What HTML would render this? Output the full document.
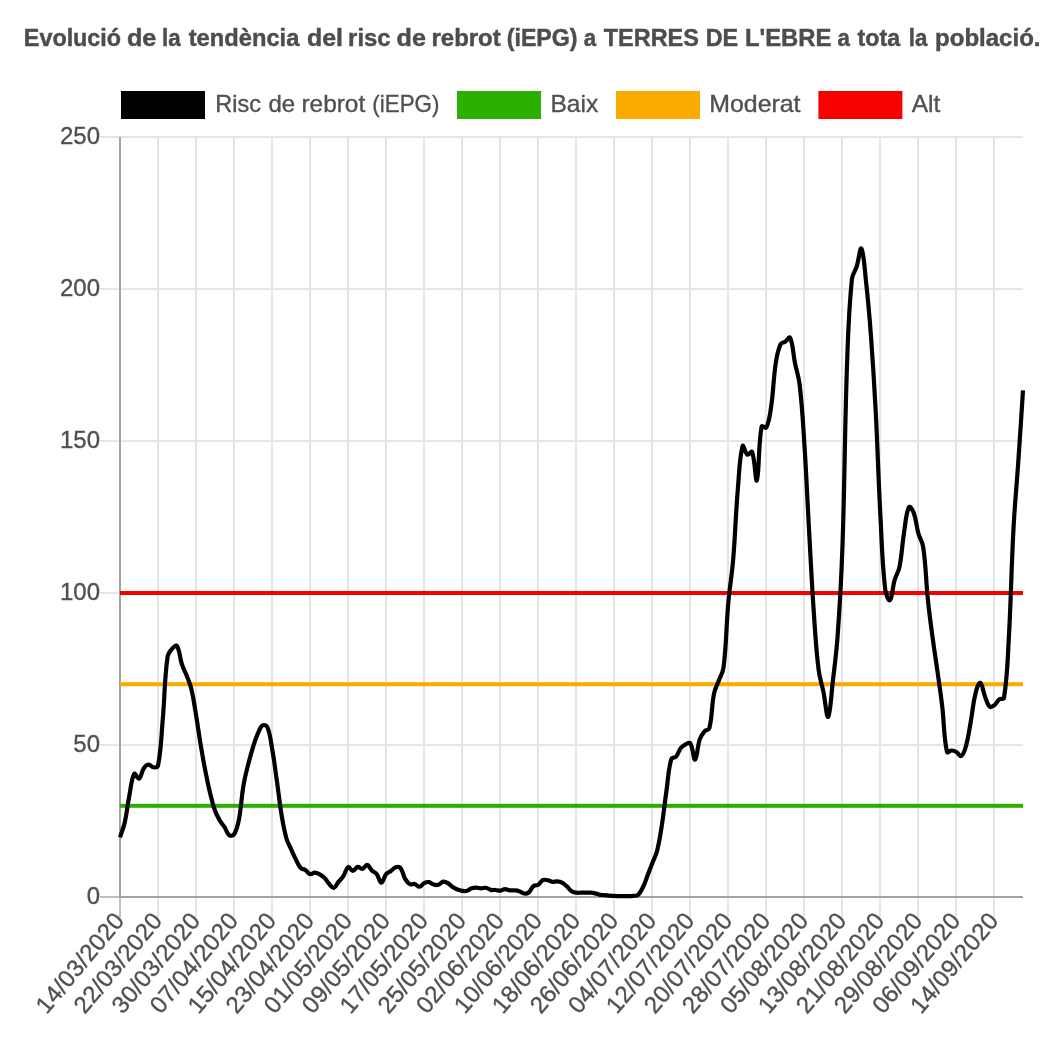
<!DOCTYPE html>
<html><head><meta charset="utf-8"><title>iEPG</title>
<style>html,body{margin:0;padding:0;background:#fff;overflow:hidden}svg{display:block;will-change:transform}text{font-family:"Liberation Sans",sans-serif;fill:#505050;stroke:#505050;stroke-width:0.35px}.tt text{fill:#4d4d4d;stroke:#4d4d4d;stroke-width:0.45px}</style>
</head><body>
<svg width="1062" height="1038" viewBox="0 0 1062 1038">
<rect width="1062" height="1038" fill="#fff"/>
<g class="tt" font-size="24" font-weight="bold">
<text x="23.83" y="45.6" textLength="97.28" lengthAdjust="spacingAndGlyphs">Evolució</text>
<text x="126.95" y="45.6" textLength="29.42" lengthAdjust="spacingAndGlyphs">de</text>
<text x="162.02" y="45.6" textLength="18.61" lengthAdjust="spacingAndGlyphs">la</text>
<text x="188.70" y="45.6" textLength="110.64" lengthAdjust="spacingAndGlyphs">tendència</text>
<text x="307.06" y="45.6" textLength="35.99" lengthAdjust="spacingAndGlyphs">del</text>
<text x="348.11" y="45.6" textLength="42.39" lengthAdjust="spacingAndGlyphs">risc</text>
<text x="396.55" y="45.6" textLength="29.42" lengthAdjust="spacingAndGlyphs">de</text>
<text x="431.50" y="45.6" textLength="69.24" lengthAdjust="spacingAndGlyphs">rebrot</text>
<text x="506.73" y="45.6" textLength="70.86" lengthAdjust="spacingAndGlyphs">(iEPG)</text>
<text x="583.79" y="45.6" textLength="12.42" lengthAdjust="spacingAndGlyphs">a</text>
<text x="603.80" y="45.6" textLength="95.05" lengthAdjust="spacingAndGlyphs">TERRES</text>
<text x="705.63" y="45.6" textLength="32.41" lengthAdjust="spacingAndGlyphs">DE</text>
<text x="745.01" y="45.6" textLength="86.43" lengthAdjust="spacingAndGlyphs">L'EBRE</text>
<text x="837.44" y="45.6" textLength="12.42" lengthAdjust="spacingAndGlyphs">a</text>
<text x="857.60" y="45.6" textLength="42.53" lengthAdjust="spacingAndGlyphs">tota</text>
<text x="908.72" y="45.6" textLength="18.61" lengthAdjust="spacingAndGlyphs">la</text>
<text x="935.00" y="45.6" textLength="105.55" lengthAdjust="spacingAndGlyphs">població.</text>
</g>
<rect x="121.0" y="91" width="84" height="28" fill="#000000"/>
<rect x="457.0" y="91" width="84" height="28" fill="#2baf00"/>
<rect x="616.0" y="91" width="84" height="28" fill="#fbab00"/>
<rect x="818.4" y="91" width="84" height="28" fill="#f80000"/>
<text x="215.32" y="112.3" font-size="24" textLength="45.63" lengthAdjust="spacingAndGlyphs">Risc</text>
<text x="268.50" y="112.3" font-size="24" textLength="26.70" lengthAdjust="spacingAndGlyphs">de</text>
<text x="301.48" y="112.3" font-size="24" textLength="63.71" lengthAdjust="spacingAndGlyphs">rebrot</text>
<text x="372.37" y="112.3" font-size="24" textLength="66.96" lengthAdjust="spacingAndGlyphs">(iEPG)</text>
<text x="550.48" y="112.3" font-size="24" textLength="47.73" lengthAdjust="spacingAndGlyphs">Baix</text>
<text x="709.26" y="112.3" font-size="24" textLength="91.29" lengthAdjust="spacingAndGlyphs">Moderat</text>
<text x="911.70" y="112.3" font-size="24" textLength="28.62" lengthAdjust="spacingAndGlyphs">Alt</text>
<g shape-rendering="crispEdges">
<rect x="157" y="136" width="2" height="781" fill="#e5e5e5"/>
<rect x="195" y="136" width="2" height="781" fill="#e5e5e5"/>
<rect x="233" y="136" width="2" height="781" fill="#e5e5e5"/>
<rect x="271" y="136" width="2" height="781" fill="#e5e5e5"/>
<rect x="309" y="136" width="2" height="781" fill="#e5e5e5"/>
<rect x="347" y="136" width="2" height="781" fill="#e5e5e5"/>
<rect x="385" y="136" width="2" height="781" fill="#e5e5e5"/>
<rect x="423" y="136" width="2" height="781" fill="#e5e5e5"/>
<rect x="461" y="136" width="2" height="781" fill="#e5e5e5"/>
<rect x="499" y="136" width="2" height="781" fill="#e5e5e5"/>
<rect x="537" y="136" width="2" height="781" fill="#e5e5e5"/>
<rect x="575" y="136" width="2" height="781" fill="#e5e5e5"/>
<rect x="613" y="136" width="2" height="781" fill="#e5e5e5"/>
<rect x="651" y="136" width="2" height="781" fill="#e5e5e5"/>
<rect x="689" y="136" width="2" height="781" fill="#e5e5e5"/>
<rect x="727" y="136" width="2" height="781" fill="#e5e5e5"/>
<rect x="765" y="136" width="2" height="781" fill="#e5e5e5"/>
<rect x="803" y="136" width="2" height="781" fill="#e5e5e5"/>
<rect x="841" y="136" width="2" height="781" fill="#e5e5e5"/>
<rect x="879" y="136" width="2" height="781" fill="#e5e5e5"/>
<rect x="917" y="136" width="2" height="781" fill="#e5e5e5"/>
<rect x="955" y="136" width="2" height="781" fill="#e5e5e5"/>
<rect x="993" y="136" width="2" height="781" fill="#e5e5e5"/>
<rect x="100" y="136" width="923" height="2" fill="#e5e5e5"/>
<rect x="100" y="288" width="923" height="2" fill="#e5e5e5"/>
<rect x="100" y="440" width="923" height="2" fill="#e5e5e5"/>
<rect x="100" y="592" width="923" height="2" fill="#e5e5e5"/>
<rect x="100" y="744" width="923" height="2" fill="#e5e5e5"/>
<rect x="100" y="896" width="19" height="2" fill="#c0c0c0"/>
<rect x="119" y="898" width="2" height="19" fill="#c0c0c0"/>
<rect x="119" y="137" width="2" height="761" fill="#a3a3a3"/>
<rect x="121" y="896" width="902" height="2" fill="#a3a3a3"/>
</g>
<text x="100" y="143.8" font-size="24" text-anchor="end">250</text>
<text x="100" y="295.8" font-size="24" text-anchor="end">200</text>
<text x="100" y="447.8" font-size="24" text-anchor="end">150</text>
<text x="100" y="599.8" font-size="24" text-anchor="end">100</text>
<text x="100" y="751.8" font-size="24" text-anchor="end">50</text>
<text x="100" y="903.8" font-size="24" text-anchor="end">0</text>
<text transform="translate(120.00 917) rotate(-50)" x="0" y="6.8" font-size="24" text-anchor="end" textLength="122.2" lengthAdjust="spacing">14/03/2020</text>
<text transform="translate(158.02 917) rotate(-50)" x="0" y="6.8" font-size="24" text-anchor="end" textLength="122.2" lengthAdjust="spacing">22/03/2020</text>
<text transform="translate(196.04 917) rotate(-50)" x="0" y="6.8" font-size="24" text-anchor="end" textLength="122.2" lengthAdjust="spacing">30/03/2020</text>
<text transform="translate(234.06 917) rotate(-50)" x="0" y="6.8" font-size="24" text-anchor="end" textLength="122.2" lengthAdjust="spacing">07/04/2020</text>
<text transform="translate(272.08 917) rotate(-50)" x="0" y="6.8" font-size="24" text-anchor="end" textLength="122.2" lengthAdjust="spacing">15/04/2020</text>
<text transform="translate(310.11 917) rotate(-50)" x="0" y="6.8" font-size="24" text-anchor="end" textLength="122.2" lengthAdjust="spacing">23/04/2020</text>
<text transform="translate(348.13 917) rotate(-50)" x="0" y="6.8" font-size="24" text-anchor="end" textLength="122.2" lengthAdjust="spacing">01/05/2020</text>
<text transform="translate(386.15 917) rotate(-50)" x="0" y="6.8" font-size="24" text-anchor="end" textLength="122.2" lengthAdjust="spacing">09/05/2020</text>
<text transform="translate(424.17 917) rotate(-50)" x="0" y="6.8" font-size="24" text-anchor="end" textLength="122.2" lengthAdjust="spacing">17/05/2020</text>
<text transform="translate(462.19 917) rotate(-50)" x="0" y="6.8" font-size="24" text-anchor="end" textLength="122.2" lengthAdjust="spacing">25/05/2020</text>
<text transform="translate(500.21 917) rotate(-50)" x="0" y="6.8" font-size="24" text-anchor="end" textLength="122.2" lengthAdjust="spacing">02/06/2020</text>
<text transform="translate(538.23 917) rotate(-50)" x="0" y="6.8" font-size="24" text-anchor="end" textLength="122.2" lengthAdjust="spacing">10/06/2020</text>
<text transform="translate(576.25 917) rotate(-50)" x="0" y="6.8" font-size="24" text-anchor="end" textLength="122.2" lengthAdjust="spacing">18/06/2020</text>
<text transform="translate(614.27 917) rotate(-50)" x="0" y="6.8" font-size="24" text-anchor="end" textLength="122.2" lengthAdjust="spacing">26/06/2020</text>
<text transform="translate(652.29 917) rotate(-50)" x="0" y="6.8" font-size="24" text-anchor="end" textLength="122.2" lengthAdjust="spacing">04/07/2020</text>
<text transform="translate(690.32 917) rotate(-50)" x="0" y="6.8" font-size="24" text-anchor="end" textLength="122.2" lengthAdjust="spacing">12/07/2020</text>
<text transform="translate(728.34 917) rotate(-50)" x="0" y="6.8" font-size="24" text-anchor="end" textLength="122.2" lengthAdjust="spacing">20/07/2020</text>
<text transform="translate(766.36 917) rotate(-50)" x="0" y="6.8" font-size="24" text-anchor="end" textLength="122.2" lengthAdjust="spacing">28/07/2020</text>
<text transform="translate(804.38 917) rotate(-50)" x="0" y="6.8" font-size="24" text-anchor="end" textLength="122.2" lengthAdjust="spacing">05/08/2020</text>
<text transform="translate(842.40 917) rotate(-50)" x="0" y="6.8" font-size="24" text-anchor="end" textLength="122.2" lengthAdjust="spacing">13/08/2020</text>
<text transform="translate(880.42 917) rotate(-50)" x="0" y="6.8" font-size="24" text-anchor="end" textLength="122.2" lengthAdjust="spacing">21/08/2020</text>
<text transform="translate(918.44 917) rotate(-50)" x="0" y="6.8" font-size="24" text-anchor="end" textLength="122.2" lengthAdjust="spacing">29/08/2020</text>
<text transform="translate(956.46 917) rotate(-50)" x="0" y="6.8" font-size="24" text-anchor="end" textLength="122.2" lengthAdjust="spacing">06/09/2020</text>
<text transform="translate(994.48 917) rotate(-50)" x="0" y="6.8" font-size="24" text-anchor="end" textLength="122.2" lengthAdjust="spacing">14/09/2020</text>
<rect x="120" y="803.8" width="903" height="4" fill="#2baf00"/>
<rect x="120" y="682.2" width="903" height="4" fill="#fbab00"/>
<rect x="120" y="591.0" width="903" height="4" fill="#f80000"/>
<path d="M120.00 837.30C121.90 831.39 123.41 828.58 124.75 822.53C127.21 811.50 127.34 805.72 129.51 794.60C131.14 786.24 131.37 778.70 134.26 773.84C135.17 772.30 137.59 779.43 139.01 778.61C141.39 777.23 141.29 772.01 143.76 768.35C145.09 766.37 146.52 764.75 148.52 764.53C150.32 764.32 151.29 767.07 153.27 767.28C155.09 767.48 157.65 767.44 158.02 765.55C161.45 748.17 161.15 737.71 162.77 719.11C164.95 694.27 164.23 681.39 167.53 656.95C168.03 653.17 169.84 651.37 172.28 648.58C173.64 647.01 176.17 644.66 177.03 646.04C179.98 650.79 179.50 656.89 181.78 663.90C183.30 668.57 184.78 670.66 186.54 675.26C188.58 680.63 189.96 683.24 191.29 688.81C193.76 699.17 194.28 704.55 196.04 715.08C198.08 727.21 198.77 733.33 200.79 745.47C202.57 756.09 203.48 761.40 205.55 771.96C207.28 780.81 208.16 785.25 210.30 794.00C211.96 800.78 212.70 804.25 215.05 810.80C216.51 814.85 217.65 816.77 219.81 820.50C221.45 823.33 222.78 824.44 224.56 827.20C226.58 830.32 226.81 833.33 229.31 835.20C230.61 836.17 233.14 835.78 234.06 834.30C236.94 829.70 237.68 825.90 238.82 820.00C241.48 806.11 241.19 798.81 243.57 784.83C245.00 776.43 246.25 772.32 248.32 764.05C250.05 757.15 250.95 753.69 253.07 746.90C254.76 741.51 255.55 738.75 257.83 733.60C259.35 730.15 260.09 727.13 262.58 725.40C263.89 724.49 266.62 725.29 267.33 727.00C270.43 734.49 270.55 739.78 272.08 748.42C274.35 761.22 275.00 767.71 276.84 780.58C278.80 794.33 279.33 801.28 281.59 814.97C283.13 824.32 283.82 829.10 286.34 838.19C287.62 842.79 289.13 844.84 291.09 849.22C292.93 853.30 293.81 855.37 295.85 859.35C297.61 862.81 298.13 865.05 300.60 867.83C301.93 869.33 303.63 868.89 305.35 870.04C307.43 871.43 307.99 873.63 310.11 874.20C311.79 874.65 312.96 872.57 314.86 872.58C316.76 872.60 317.84 873.35 319.61 874.28C321.65 875.36 322.75 875.99 324.36 877.63C326.55 879.83 326.99 881.59 329.12 883.88C330.79 885.68 332.18 888.24 333.87 887.85C335.99 887.36 336.65 884.10 338.62 881.68C340.46 879.43 341.80 878.60 343.37 876.18C345.61 872.73 345.74 868.32 348.13 867.00C349.55 866.21 350.99 870.93 352.88 870.92C354.79 870.90 355.55 867.36 357.63 866.92C359.36 866.56 360.66 869.28 362.38 868.92C364.46 868.47 365.39 864.61 367.14 864.90C369.19 865.24 369.78 868.47 371.89 870.49C373.58 872.11 375.23 872.16 376.64 873.98C379.03 877.04 379.48 882.67 381.39 882.70C383.28 882.73 383.74 877.08 386.15 874.12C387.54 872.41 389.06 872.34 390.90 871.02C392.86 869.61 393.53 868.02 395.65 867.30C397.33 866.73 399.33 866.48 400.41 867.79C403.13 871.12 402.77 874.77 405.16 878.91C406.57 881.36 407.63 883.05 409.91 884.26C411.43 885.07 412.90 883.50 414.66 883.96C416.70 884.50 417.59 886.92 419.42 886.76C421.39 886.59 422.07 884.18 424.17 883.15C425.88 882.31 427.11 881.80 428.92 882.07C430.91 882.37 431.66 884.00 433.67 884.58C435.46 885.09 436.70 885.34 438.43 884.80C440.50 884.16 441.15 881.98 443.18 881.63C444.95 881.33 446.22 882.22 447.93 883.19C450.03 884.39 450.66 885.71 452.68 887.06C454.46 888.25 455.45 888.76 457.44 889.54C459.26 890.26 460.26 890.54 462.19 890.80C464.06 891.05 465.17 891.29 466.94 890.80C468.97 890.25 469.68 888.88 471.69 888.20C473.48 887.60 474.55 887.58 476.45 887.61C478.35 887.65 479.29 888.35 481.20 888.39C483.10 888.42 484.13 887.48 485.95 887.77C487.93 888.08 488.72 889.44 490.71 889.90C492.52 890.32 493.57 889.82 495.46 889.97C497.37 890.12 498.35 890.81 500.21 890.64C502.15 890.47 503.04 889.20 504.96 889.13C506.85 889.06 507.79 890.06 509.72 890.30C511.59 890.53 512.58 890.13 514.47 890.30C516.38 890.47 517.41 890.53 519.22 891.15C521.21 891.82 521.99 893.25 523.97 893.53C525.79 893.79 527.29 893.63 528.73 892.50C531.09 890.62 531.12 887.94 533.48 886.02C534.92 884.84 536.63 885.78 538.23 884.77C540.43 883.38 540.76 881.06 542.98 880.02C544.56 879.27 545.88 879.95 547.74 880.29C549.68 880.66 550.55 881.57 552.49 881.80C554.35 882.01 555.37 881.24 557.24 881.41C559.17 881.59 560.28 881.79 561.99 882.67C564.08 883.73 564.99 884.67 566.75 886.26C568.79 888.10 569.29 889.77 571.50 891.26C573.09 892.34 574.31 892.41 576.25 892.70C578.11 892.98 579.10 892.70 581.01 892.70C582.91 892.70 583.86 892.70 585.76 892.70C587.66 892.70 588.62 892.56 590.51 892.70C592.42 892.84 593.39 893.00 595.26 893.42C597.19 893.85 598.08 894.48 600.02 894.82C601.88 895.14 602.87 894.89 604.77 895.06C606.68 895.22 607.62 895.44 609.52 895.63C611.42 895.81 612.37 895.87 614.27 895.97C616.17 896.06 617.12 896.06 619.03 896.09C620.93 896.12 621.88 896.10 623.78 896.10C625.68 896.10 626.63 896.15 628.53 896.10C630.43 896.05 631.40 896.09 633.28 895.84C635.20 895.58 636.68 896.03 638.04 894.84C640.48 892.70 641.25 890.62 642.79 887.50C645.05 882.93 645.68 880.39 647.54 875.62C649.48 870.65 650.37 868.13 652.29 863.15C654.17 858.31 655.78 856.09 657.05 851.07C659.58 841.04 660.20 835.80 661.80 825.54C664.00 811.42 664.53 804.28 666.55 790.13C668.33 777.68 668.05 770.50 671.31 759.05C671.86 757.11 674.73 758.19 676.06 756.64C678.53 753.74 678.43 750.99 680.81 747.92C682.23 746.08 683.47 745.34 685.56 744.35C687.27 743.55 689.47 742.07 690.32 743.43C693.27 748.16 693.38 760.37 695.07 759.60C697.18 758.64 697.17 747.00 699.82 739.11C700.97 735.69 702.23 734.00 704.57 731.31C706.03 729.64 708.80 730.31 709.33 728.20C712.60 715.10 711.33 707.04 714.08 693.29C715.14 687.99 716.98 685.68 718.83 680.58C720.78 675.22 722.90 672.77 723.58 667.14C726.70 641.48 726.03 628.23 728.34 602.35C729.83 585.54 731.68 577.23 733.09 560.42C735.48 531.94 735.47 517.59 737.84 489.11C739.28 471.85 739.49 457.31 742.59 446.05C743.30 443.51 744.90 453.07 747.35 454.60C748.70 455.45 751.50 450.37 752.10 452.00C755.30 460.65 755.53 483.82 756.85 480.30C759.33 473.69 758.12 446.08 761.61 426.67C761.92 424.93 765.65 428.89 766.36 427.42C769.45 420.97 769.89 415.20 771.11 406.87C773.69 389.22 773.19 380.09 775.86 362.47C776.99 355.02 777.66 350.69 780.62 344.20C781.46 342.34 783.60 342.83 785.37 341.60C787.40 340.19 789.37 335.96 790.12 337.60C793.17 344.30 792.86 352.54 794.87 362.46C796.67 371.30 798.58 375.57 799.63 384.52C802.39 408.19 802.84 420.20 804.38 444.02C806.64 479.07 807.16 496.64 809.13 531.72C810.97 564.44 811.64 580.82 813.88 613.51C815.44 636.18 815.90 647.60 818.64 670.12C819.70 678.84 821.63 682.98 823.39 691.60C825.44 701.65 826.57 718.61 828.14 716.81C830.37 714.25 831.20 695.18 832.89 680.71C835.00 662.71 836.35 653.73 837.65 635.65C840.16 600.60 841.18 583.03 842.40 547.91C844.99 473.21 844.51 435.79 847.15 361.10C848.31 328.26 848.63 311.60 851.91 279.09C852.43 273.85 855.08 271.78 856.66 266.73C858.89 259.58 860.07 246.34 861.41 248.61C863.87 252.77 864.66 269.07 866.16 282.79C868.46 303.78 869.35 314.32 870.92 335.39C873.15 365.51 874.08 380.59 875.67 410.75C877.88 452.79 878.18 473.86 880.42 515.91C881.98 545.17 881.91 560.09 885.17 589.01C885.72 593.83 888.53 601.60 889.93 600.25C892.33 597.93 892.37 587.87 894.68 579.82C896.17 574.62 898.39 572.43 899.43 567.15C902.19 553.13 901.94 545.73 904.18 531.55C905.74 521.75 906.00 513.01 908.94 507.18C909.80 505.47 912.73 510.01 913.69 512.69C916.53 520.58 916.16 525.35 918.44 533.61C919.96 539.10 922.39 541.44 923.19 547.06C926.19 568.07 925.74 578.97 927.95 600.19C929.54 615.48 930.66 623.09 932.70 638.33C934.46 651.53 935.61 658.09 937.45 671.28C939.41 685.29 940.55 692.27 942.21 706.31C944.35 724.50 943.53 735.90 946.96 751.86C947.33 753.58 949.82 750.47 951.71 750.51C953.62 750.55 954.77 751.05 956.46 752.04C958.57 753.28 959.84 756.93 961.22 756.08C963.64 754.58 964.80 750.37 965.97 746.16C968.60 736.68 968.96 731.61 970.72 721.86C972.77 710.50 972.76 704.54 975.47 693.40C976.56 688.92 978.54 682.26 980.23 682.82C982.34 683.51 982.84 691.13 984.98 696.52C986.64 700.70 987.10 704.35 989.73 706.73C990.90 707.80 992.97 706.33 994.48 705.14C996.77 703.35 996.95 701.06 999.24 699.29C1000.75 698.12 1003.69 699.68 1003.99 697.80C1007.49 675.83 1007.43 662.96 1008.74 639.67C1011.24 595.26 1011.11 572.97 1013.49 528.55C1014.91 502.07 1016.43 488.88 1018.25 462.42C1020.23 433.58 1021.10 419.15 1023.00 390.30" fill="none" stroke="#000" stroke-width="4.2" stroke-linejoin="round" stroke-linecap="butt"/>
</svg></body></html>
